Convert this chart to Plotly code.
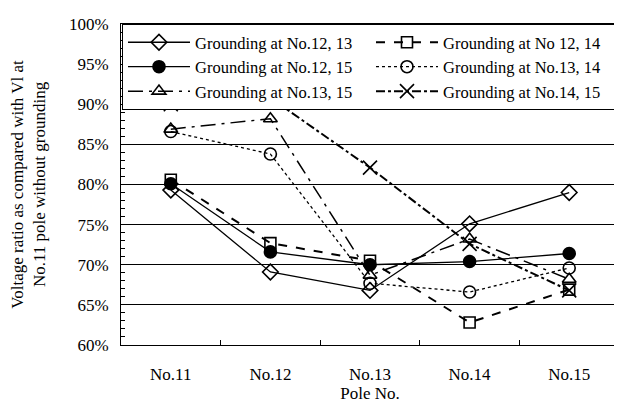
import plotly.graph_objects as go

poles = ["No.11", "No.12", "No.13", "No.14", "No.15"]

g12_13 = [79.3, 69.1, 66.8, 75.1, 79.0]
g12_14 = [80.6, 72.7, 70.5, 62.8, 66.9]
g12_15 = [80.1, 71.6, 70.0, 70.4, 71.4]
g13_14 = [86.6, 83.8, 67.7, 66.6, 69.6]
g13_15 = [86.9, 88.2, 68.7, 73.2, 68.2]
g14_15 = [90.0, 90.8, 82.1, 72.6, 66.8]

names = ["Grounding at No.12, 13", "Grounding at No 12, 14", "Grounding at No.12, 15",
         "Grounding at No.13, 14", "Grounding at No.13, 15", "Grounding at No.14, 15"]

series = [g12_13, g12_14, g12_15, g13_14, g13_15, g14_15]
styles = [
    dict(dash="solid", width=1.3, symbol="diamond-open", size=12),
    dict(dash="dash", width=2.0, symbol="square-open", size=11),
    dict(dash="solid", width=1.3, symbol="circle", size=12),
    dict(dash="dot", width=1.3, symbol="circle-open", size=12),
    dict(dash="longdashdot", width=1.5, symbol="triangle-up-open", size=12),
    dict(dash="dashdot", width=2.0, symbol="x-thin-open", size=14),
]

fig = go.Figure()
for name, vals, st in zip(names, series, styles):
    fig.add_trace(go.Scatter(
        x=poles, y=vals, name=name, mode="lines+markers",
        line=dict(color="black", dash=st["dash"], width=st["width"]),
        marker=dict(symbol=st["symbol"], size=st["size"], color="black",
                    line=dict(color="black", width=1.6)),
    ))

font = "Liberation Serif"
fig.update_layout(
    width=622, height=405,
    margin=dict(l=111, r=11, t=7, b=68),
    paper_bgcolor="white", plot_bgcolor="white",
    font=dict(family=font, size=16, color="black"),
    showlegend=True,
    legend=dict(
        orientation="h", x=0.002, y=1.0, xanchor="left", yanchor="top",
        bgcolor="white", bordercolor="black", borderwidth=1,
        font=dict(family=font, size=16.5, color="black"),
        entrywidth=171, entrywidthmode="pixels",
        tracegroupgap=0, itemwidth=62,
    ),
    xaxis=dict(
        type="category", range=[-0.5, 4.5],
        showline=True, linecolor="black", linewidth=1, mirror=True,
        showgrid=False, ticks="inside", tickson="boundaries", ticklen=5,
        tickcolor="black", ticklabelstandoff=14,
        title=dict(text="Pole No.", font=dict(family=font, size=17), standoff=0),
        tickfont=dict(family=font, size=17),
    ),
    yaxis=dict(
        range=[60, 100], dtick=5, tick0=60, ticksuffix="%",
        showline=True, linecolor="black", linewidth=1, mirror=True,
        showgrid=True, gridcolor="black", gridwidth=1,
        ticks="inside", ticklen=5, tickcolor="black",
        ticklabelstandoff=8, ticklabeloverflow="allow",
        minor=dict(ticks="inside", dtick=1, ticklen=4, tickcolor="black", showgrid=False),
        title=dict(text="Voltage ratio as compared with Vl at<br>No.11 pole without grounding",
                   font=dict(family=font, size=17), standoff=20),
        tickfont=dict(family=font, size=17),
    ),
)

fig.write_html("out.html")
